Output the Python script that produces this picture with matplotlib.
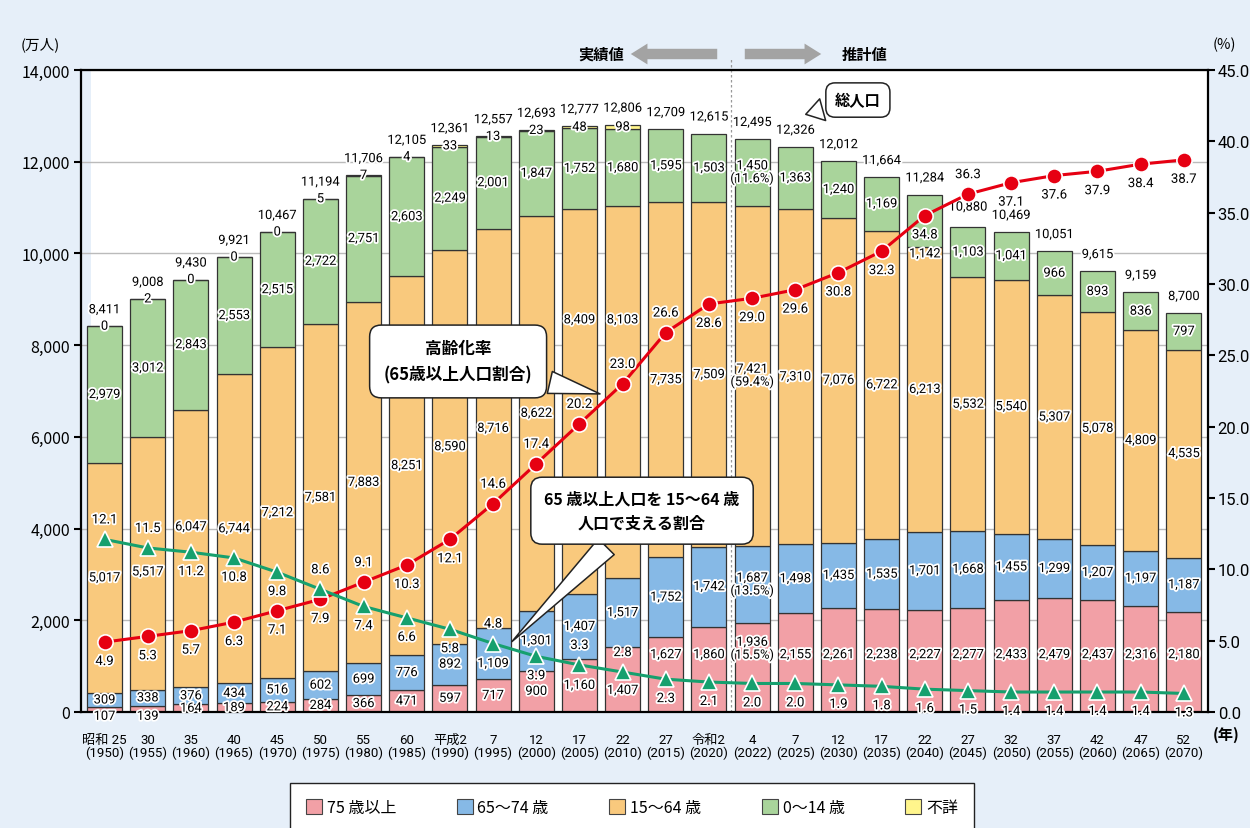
import matplotlib
matplotlib.use('Agg')
import matplotlib.pyplot as plt
import matplotlib.patheffects as pe
from matplotlib.patches import Patch, Rectangle
from matplotlib.ticker import FuncFormatter, MultipleLocator
import numpy as np

plt.rcParams['font.family'] = ['Noto Sans CJK JP', 'DejaVu Sans']
NUM = ['Roboto', 'Noto Sans CJK JP', 'DejaVu Sans']

# 年次（和暦, 西暦）
era = ['昭和 25', '30', '35', '40', '45', '50', '55', '60', '平成2', '7', '12', '17', '22',
       '27', '令和2', '4', '7', '12', '17', '22', '27', '32', '37', '42', '47', '52']
years = [1950, 1955, 1960, 1965, 1970, 1975, 1980, 1985, 1990, 1995, 2000, 2005, 2010,
         2015, 2020, 2022, 2025, 2030, 2035, 2040, 2045, 2050, 2055, 2060, 2065, 2070]

# 人口（万人）
total = [8411, 9008, 9430, 9921, 10467, 11194, 11706, 12105, 12361, 12557, 12693, 12777, 12806,
         12709, 12615, 12495, 12326, 12012, 11664, 11284, 10880, 10469, 10051, 9615, 9159, 8700]
age75 = [107, 139, 164, 189, 224, 284, 366, 471, 597, 717, 900, 1160, 1407,
         1627, 1860, 1936, 2155, 2261, 2238, 2227, 2277, 2433, 2479, 2437, 2316, 2180]
age65 = [309, 338, 376, 434, 516, 602, 699, 776, 892, 1109, 1301, 1407, 1517,
         1752, 1742, 1687, 1498, 1435, 1535, 1701, 1668, 1455, 1299, 1207, 1197, 1187]
age15 = [5017, 5517, 6047, 6744, 7212, 7581, 7883, 8251, 8590, 8716, 8622, 8409, 8103,
         7735, 7509, 7421, 7310, 7076, 6722, 6213, 5532, 5540, 5307, 5078, 4809, 4535]
age0 = [2979, 3012, 2843, 2553, 2515, 2722, 2751, 2603, 2249, 2001, 1847, 1752, 1680,
        1595, 1503, 1450, 1363, 1240, 1169, 1142, 1103, 1041, 966, 893, 836, 797]
unknown = [0, 2, 0, 0, 0, 5, 7, 4, 33, 13, 23, 48, 98]   # 1950-2010 only
share_2022 = [15.5, 13.5, 59.4, 11.6]                      # 75+, 65-74, 15-64, 0-14 (%)

# 比率（%）
aging_rate = [4.9, 5.3, 5.7, 6.3, 7.1, 7.9, 9.1, 10.3, 12.1, 14.6, 17.4, 20.2, 23.0,
              26.6, 28.6, 29.0, 29.6, 30.8, 32.3, 34.8, 36.3, 37.1, 37.6, 37.9, 38.4, 38.7]
support = [12.1, 11.5, 11.2, 10.8, 9.8, 8.6, 7.4, 6.6, 5.8, 4.8, 3.9, 3.3, 2.8,
           2.3, 2.1, 2.0, 2.0, 1.9, 1.8, 1.6, 1.5, 1.4, 1.4, 1.4, 1.4, 1.3]

# ラベルを点の上(1)に置くか下(-1)に置くか
aging_side = [-1, -1, -1, -1, -1, -1, 1, -1, -1, 1, 1, 1, 1,
              1, -1, -1, -1, -1, -1, -1, 1, -1, -1, -1, -1, -1]
support_side = [1, 1, -1, -1, -1, 1, -1, -1, -1, 1, -1, 1, 1,
                -1, -1, -1, -1, -1, -1, -1, -1, -1, -1, -1, -1, -1]

BG = '#E6EFF9'
C75, C65, C15, C0, CUN = '#F2A0A6', '#86B9E6', '#F9C97D', '#A9D49B', '#FFF58C'
RED, GREEN = '#E60012', '#16A06E'

n = len(years)
x = np.arange(n)
unk = np.array(unknown + [0] * (n - len(unknown)))
a75, a65, a15, a0 = map(np.array, (age75, age65, age15, age0))

fig = plt.figure(figsize=(12.5, 8.29), dpi=100, facecolor=BG)
ax = fig.add_axes([81 / 1250, 1 - 713 / 829, 1127 / 1250, 642 / 829])
ax.set_facecolor('white')
ax.add_patch(Rectangle((0, 0), 10 / 1127, 1, transform=ax.transAxes, color=BG, zorder=0.1, lw=0))

w = 0.81
ek = dict(edgecolor='#333333', linewidth=0.9, zorder=2)
b1 = a75
b2 = b1 + a65
b3 = b2 + a15
b4 = b3 + a0
ax.bar(x, a75, w, color=C75, **ek)
ax.bar(x, a65, w, bottom=b1, color=C65, **ek)
ax.bar(x, a15, w, bottom=b2, color=C15, **ek)
ax.bar(x, a0, w, bottom=b3, color=C0, **ek)
ax.bar(x[:len(unknown)], unk[:len(unknown)], w, bottom=b4[:len(unknown)], color=CUN, **ek)

ax.set_xlim(-0.545, 25.56)
ax.set_ylim(0, 14000)
ax.yaxis.set_major_locator(MultipleLocator(2000))
ax.yaxis.set_major_formatter(FuncFormatter(lambda v, p: f'{int(v):,}'))
ax.grid(axis='y', color='#BBBBBB', lw=1.0)
ax.set_axisbelow(True)
for s in ax.spines.values():
    s.set_linewidth(1.6)
    s.set_color('black')
ax.tick_params(axis='y', length=5, width=1.5, labelsize=11.5, pad=3)
ax.set_xticks(x)
ax.set_xticklabels([f'{e}\n({y})' for e, y in zip(era, years)], family=NUM, fontsize=9.5,
                   linespacing=1.0)
ax.tick_params(axis='x', length=0, pad=15)

stroke = [pe.withStroke(linewidth=2.6, foreground='white')]


def put(xx, yy, s, size=9.3):
    ax.text(xx, yy, s, ha='center', va='center', fontsize=size, family=NUM,
            path_effects=stroke, zorder=6, linespacing=0.95)


# 線と重なるラベルだけ位置をずらす（万人単位の高さ）
shift15 = {1: 3054, 2: 4036, 11: 8550, 12: 8550}

for i in range(n):
    # 75歳以上
    if age75[i] < 150:
        y75 = -95
    elif i == 12:
        y75 = 470
    elif i >= 13:
        y75 = max(age75[i] / 2, 1250)
    else:
        y75 = age75[i] / 2
    # 65～74歳
    y65 = 1054 if i == 9 else b1[i] + age65[i] / 2
    # 15～64歳
    y15 = shift15.get(i, b2[i] + age15[i] / 2)
    # 0～14歳
    y0 = 9990 if i == 19 else b3[i] + age0[i] / 2
    t = [f'{age75[i]:,}', f'{age65[i]:,}', f'{age15[i]:,}', f'{age0[i]:,}']
    if years[i] == 2022:
        t = [f'{s}\n({p}%)' for s, p in zip(t, share_2022)]
        y75 = 1380
    for yy, s in zip([y75, y65, y15, y0], t):
        put(i, yy, s)
    if i < len(unknown):
        put(i, b4[i] + unk[i] / 2, f'{unknown[i]:,}')
    put(i, total[i] + (130 if years[i] == 2045 else 360), f'{total[i]:,}')

# 比率（右軸）
ax2 = ax.twinx()
ax2.set_ylim(0, 45)
ax2.yaxis.set_major_locator(MultipleLocator(5))
ax2.yaxis.set_major_formatter(FuncFormatter(lambda v, p: f'{v:.1f}'))
ax2.tick_params(axis='y', length=5, width=1.5, labelsize=12, pad=2)
for lab in ax2.get_yticklabels():
    lab.set_family(NUM)
for s in ax2.spines.values():
    s.set_visible(False)

ax2.plot(x, aging_rate, color=RED, lw=2.2, marker='o', ms=11, mfc=RED, mec='white', mew=1.2, zorder=4)
ax2.plot(x, support, color=GREEN, lw=2.2, marker='^', ms=12, mfc=GREEN, mec='white', mew=1.2, zorder=4)
for i in range(n):
    for vals, side in ((aging_rate, aging_side), (support, support_side)):
        ax2.annotate(f'{vals[i]:.1f}', (i, vals[i]), xytext=(0, 14 * side[i]), textcoords='offset points',
                     ha='center', va='center', fontsize=9.5, family=NUM, path_effects=stroke, zorder=6)

# 実績値／推計値 の区切り
ax.axvline(14.5, ymin=0, ymax=1.018, color='#999999', lw=0.9, ls=(0, (2, 2)), clip_on=False, zorder=1)
yarr = 1 - 55 / 829
ax.annotate('', xy=(628 / 1250, yarr), xytext=(720 / 1250, yarr), xycoords='figure fraction',
            arrowprops=dict(arrowstyle='simple,head_length=0.8,head_width=1.0,tail_width=0.5',
                            mutation_scale=15, fc='#A3A3A3', ec='none'))
ax.annotate('', xy=(824 / 1250, yarr), xytext=(742 / 1250, yarr), xycoords='figure fraction',
            arrowprops=dict(arrowstyle='simple,head_length=0.8,head_width=1.0,tail_width=0.5',
                            mutation_scale=15, fc='#A3A3A3', ec='none'))
fig.text(624 / 1250, yarr, '実績値', ha='right', va='center', fontsize=11, weight='bold')
fig.text(842 / 1250, yarr, '推計値', ha='left', va='center', fontsize=11, weight='bold')

# 吹き出し
bub = dict(boxstyle='round,pad=0.85,rounding_size=0.7', fc='white', ec='#222222', lw=1.1)
wedge = dict(arrowstyle='wedge,tail_width=0.9,shrink_factor=0.5', fc='white', ec='#222222', lw=1.1,
             mutation_scale=18)
ax.annotate('総人口', xy=(16.18, 13017), xytext=(17.45, 13345), ha='center', va='center',
            fontsize=11, weight='bold', bbox=dict(bub, boxstyle='round,pad=0.6,rounding_size=0.6'),
            arrowprops=wedge, zorder=7)
ax.annotate('高齢化率\n(65歳以上人口割合)', xy=(11.54, 6923), xytext=(8.19, 7644), ha='center',
            va='center', fontsize=12, weight='bold', linespacing=1.6, bbox=bub, arrowprops=wedge,
            zorder=7)
ax.annotate('65 歳以上人口を 15～64 歳\n人口で支える割合', xy=(9.39, 1491), xytext=(12.45, 4390),
            ha='center', va='center', fontsize=11.5, weight='bold', linespacing=1.6, bbox=bub,
            arrowprops=wedge, zorder=7)

# 単位
fig.text(40 / 1250, 1 - 45 / 829, '(万人)', ha='center', va='center', fontsize=10.5)
fig.text(1224 / 1250, 1 - 45 / 829, '(%)', ha='center', va='center', fontsize=10.5)
fig.text(1226 / 1250, 1 - 735 / 829, '(年)', ha='center', va='center', fontsize=11, weight='bold')

# 凡例
handles = [Patch(fc=c, ec='#444444', lw=0.8) for c in (C75, C65, C15, C0, CUN)]
labels = ['75 歳以上', '65～74 歳', '15～64 歳', '0～14 歳', '不詳']
fig.legend(handles, labels, loc='upper center', bbox_to_anchor=(632 / 1250, 1 - 776 / 829), ncol=5,
           frameon=True, fancybox=False, edgecolor='#222222', framealpha=1, fontsize=11.5,
           handlelength=1.0, handleheight=1.0, handletextpad=0.3, columnspacing=3.8,
           borderpad=1.0)

fig.savefig('out.png', dpi=100, facecolor=BG)
